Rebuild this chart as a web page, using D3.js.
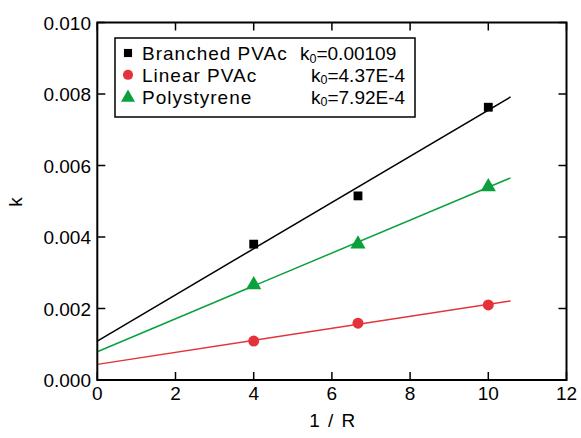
<!DOCTYPE html>
<html><head><meta charset="utf-8">
<script src="https://cdn.jsdelivr.net/npm/d3@7"></script>
<style>body{margin:0;background:#fff}svg{display:block}text{font-family:"Liberation Sans",Arial,Helvetica,sans-serif}</style>
</head><body><svg id="c" width="581" height="438"></svg>
<script>
const xInv = [4, 6.667, 10];
const branched = [0.00380, 0.00515, 0.00763];
const linear = [0.00109, 0.00159, 0.00210];
const polystyrene = [0.00269, 0.00383, 0.00543];
const seriesNames = ["Branched PVAc", "Linear PVAc", "Polystyrene"];
const k0Labels = ["0.00109", "4.37E-4", "7.92E-4"];
const intercepts = [0.00109, 0.000437, 0.000792];
const slopes = [0.000646, 0.000168, 0.000460];
const fitEnd = 10.57;
const xTicks = [0, 2, 4, 6, 8, 10, 12];
const yTicks = [0, 0.002, 0.004, 0.006, 0.008, 0.010];
const colors = ["#000000", "#e3323a", "#0aa03c"];
const symbols = [d3.symbolSquare, d3.symbolCircle, d3.symbolTriangle];
const symSizes = [78, 95, 100];

const svg = d3.select("#c");
const L = 97.3, R = 566.5, T = 22.5, B = 380;
const x = d3.scaleLinear().domain([0, 12]).range([L, R]);
const y = d3.scaleLinear().domain([0, 0.010]).range([B, T]);
const fs = 19;

// fit lines
[0,1,2].forEach(i => {
  const line = d3.line().x(d => x(d)).y(d => y(intercepts[i] + slopes[i] * d));
  svg.append("path").attr("d", line([0, fitEnd])).attr("stroke", colors[i]).attr("stroke-width", 1.5).attr("fill", "none");
});
// points
const data = [branched, linear, polystyrene];
data.forEach((arr, i) => {
  svg.selectAll(null).data(arr).enter().append("path")
    .attr("d", d3.symbol().type(symbols[i]).size(symSizes[i]))
    .attr("transform", (d, j) => `translate(${x(xInv[j])},${y(d) + (i===2?1:0)})`)
    .attr("fill", colors[i]);
});

// axes (ticks inside, on four sides)
const tl = 8;
const ax = svg.append("g").attr("stroke", "#000");
xTicks.forEach(t => {
  ax.append("line").attr("x1", x(t)).attr("x2", x(t)).attr("y1", B).attr("y2", B - tl).attr("stroke-width", 1.5);
  ax.append("line").attr("x1", x(t)).attr("x2", x(t)).attr("y1", T).attr("y2", T + tl).attr("stroke-width", 1.5);
});
yTicks.forEach(t => {
  ax.append("line").attr("x1", L).attr("x2", L + tl).attr("y1", y(t)).attr("y2", y(t)).attr("stroke-width", 1.5);
  ax.append("line").attr("x1", R).attr("x2", R - tl).attr("y1", y(t)).attr("y2", y(t)).attr("stroke-width", 1.5);
});
ax.append("rect").attr("x", L).attr("y", T).attr("width", R - L).attr("height", B - T)
  .attr("fill", "none").attr("stroke-width", 2);

svg.selectAll(null).data(xTicks).enter().append("text")
  .attr("x", d => x(d)).attr("y", 400).attr("text-anchor", "middle").attr("font-size", fs).text(d => d);
svg.selectAll(null).data(yTicks).enter().append("text")
  .attr("x", 91).attr("y", d => y(d) + 7).attr("text-anchor", "end").attr("font-size", fs).text(d => d3.format(".3f")(d));

svg.append("text").attr("x", 333).attr("y", 427).attr("text-anchor", "middle").attr("font-size", fs)
  .attr("letter-spacing", 1.5).text("1 / R");
svg.append("text").attr("transform", "translate(22,202) rotate(-90)").attr("text-anchor", "middle").attr("font-size", fs).text("k");

// legend
const lg = svg.append("g");
lg.append("rect").attr("x", 115).attr("y", 38).attr("width", 300).attr("height", 79)
  .attr("fill", "#fff").attr("stroke", "#000").attr("stroke-width", 1.5);
const k0x = [300, 311, 311];
seriesNames.forEach((n, i) => {
  const base = 60 + i * 21.8;
  const cy = base - 7;
  lg.append("path").attr("d", d3.symbol().type(symbols[i]).size(symSizes[i] * 0.85))
    .attr("transform", `translate(128,${cy + (i===2?1:0)})`).attr("fill", colors[i]);
  lg.append("text").attr("x", 142).attr("y", base).attr("font-size", fs).attr("letter-spacing", 1.0).text(n);
  const t = lg.append("text").attr("x", k0x[i]).attr("y", base).attr("font-size", fs);
  t.append("tspan").text("k");
  t.append("tspan").attr("dy", 2.5).attr("font-size", 12.5).text("0");
  t.append("tspan").attr("dy", -2.5).text("=" + k0Labels[i]);
});
</script></body></html>
